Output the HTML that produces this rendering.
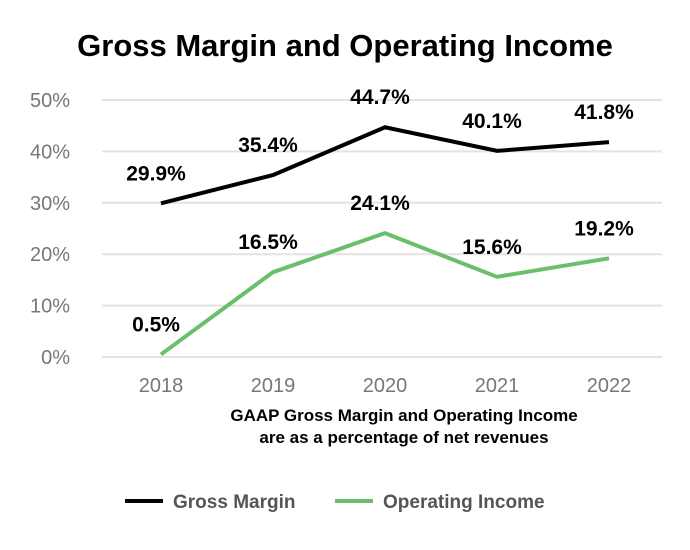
<!DOCTYPE html>
<html><head><meta charset="utf-8"><style>
body{margin:0;background:#fff;font-family:"Liberation Sans",sans-serif}
svg{display:block}
</style></head><body>
<svg width="690" height="550" xmlns="http://www.w3.org/2000/svg">
<text x="345" y="56" text-anchor="middle" font-size="31" font-weight="bold" fill="#000">Gross Margin and Operating Income</text>
<g id="grid"></g><g id="series"></g>
<text x="404" y="421" text-anchor="middle" font-size="17" font-weight="bold">GAAP Gross Margin and Operating Income</text>
<text x="404" y="443" text-anchor="middle" font-size="17" font-weight="bold">are as a percentage of net revenues</text>
<g>
<line x1="125" y1="501" x2="163" y2="501" stroke="#000" stroke-width="4"/>
<text x="173" y="508" font-size="19" font-weight="bold" fill="#555">Gross Margin</text>
<line x1="335" y1="501" x2="373" y2="501" stroke="#6bbf6b" stroke-width="4"/>
<text x="383" y="508" font-size="19" font-weight="bold" fill="#555">Operating Income</text>
</g>
</svg>
<script>
const categories=["2018","2019","2020","2021","2022"];
const grossMargin=[29.9,35.4,44.7,40.1,41.8];
const operatingIncome=[0.5,16.5,24.1,15.6,19.2];
const yTicks=[0,10,20,30,40,50];
const NS="http://www.w3.org/2000/svg";
const x=i=>161+i*112;
const y=v=>357-v*5.14;
function mk(t,a,p){const e=document.createElementNS(NS,t);for(const k in a)e.setAttribute(k,a[k]);p.appendChild(e);return e;}
const g=document.getElementById('grid'),s=document.getElementById('series');
yTicks.forEach(t=>{
 const l=mk('line',{x1:102,x2:662,y1:y(t),y2:y(t),stroke:'#e3e3e3','stroke-width':2},g);
 
 
 const tx=mk('text',{x:70,y:y(t)+7,'text-anchor':'end','font-size':20,fill:'#777'},g);
 tx.textContent=t+'%';
 
 
});
categories.forEach((c,i)=>{
 const tx=mk('text',{x:x(i),y:392,'text-anchor':'middle','font-size':20,fill:'#777'},g);
 tx.textContent=c;
 
 
});
[[grossMargin,'#000','gross-margin'],[operatingIncome,'#6bbf6b','operating-income']].forEach(([d,col,n])=>{
 const p=mk('polyline',{points:d.map((v,i)=>x(i)+','+y(v)).join(' '),fill:'none',stroke:col,'stroke-width':4,'stroke-linejoin':'miter'},s);
 
 
 d.forEach((v,i)=>{
  const t=mk('text',{x:x(i)-5,y:y(v)-23,'text-anchor':'middle','font-size':21,'font-weight':'bold',fill:'#000'},s);
  t.textContent=v.toFixed(1)+'%';
  
  
 });
});
</script>
</body></html>
